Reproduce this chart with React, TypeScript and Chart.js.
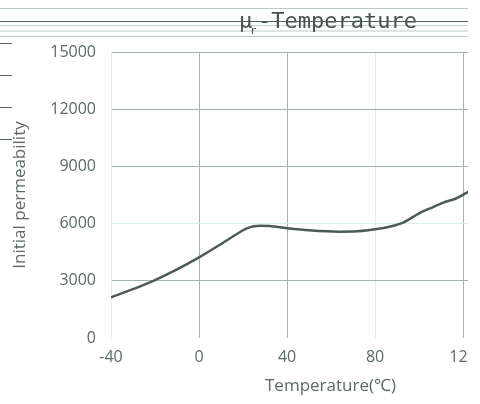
import React, { useEffect, useRef } from "react";
import { Chart, registerables } from "chart.js";

Chart.register(...registerables);

const temperatures = [-40, -30, -20, -10, 0, 10, 20, 21.7, 25, 28, 32, 40, 50, 64, 70, 80, 87, 93, 100, 105, 111, 117, 122.5];
const permeability = [2130, 2560, 3040, 3600, 4230, 4930, 5650, 5750, 5860, 5890, 5870, 5760, 5650, 5575, 5580, 5700, 5850, 6070, 6540, 6800, 7100, 7330, 7680];
const xTicks = [-40, 0, 40, 80, 120];
const yTicks = [0, 3000, 6000, 9000, 12000, 15000];

const GRID = "#a4b3af";
const LIGHT = "#dcefec";
const TEXT = "#5b6a66";
const LINE = "#4b5b56";

const decorPlugin = {
  id: "decor",
  beforeDraw(chart: any) {
    const ctx = chart.ctx;
    ctx.save();
    const lines: [number, string][] = [
      [8, "#bccbc7"],
      [21, "#56655f"],
      [25, "#c5d3cf"],
      [30.5, "#bccbc7"],
      [36, "#bccbc7"],
    ];
    for (const [y, c] of lines) {
      ctx.strokeStyle = c;
      ctx.lineWidth = 1;
      ctx.beginPath();
      ctx.moveTo(0, y + 0.5);
      ctx.lineTo(chart.width, y + 0.5);
      ctx.stroke();
    }
    ctx.strokeStyle = "#56655f";
    for (const y of [43, 75, 107, 139]) {
      ctx.beginPath();
      ctx.moveTo(0, y + 0.5);
      ctx.lineTo(12, y + 0.5);
      ctx.stroke();
    }
    ctx.restore();
  },
  afterDraw(chart: any) {
    const ctx = chart.ctx;
    ctx.save();
    ctx.fillStyle = "#44544f";
    ctx.textBaseline = "alphabetic";
    ctx.textAlign = "left";
    ctx.font = "22px 'DejaVu Sans Mono'";
    ctx.fillText("μ", 239, 28);
    ctx.font = "11px 'DejaVu Sans Mono'";
    ctx.fillText("r", 250, 34);
    ctx.font = "22px 'DejaVu Sans Mono'";
    ctx.fillText("-Temperature", 258, 28);
    ctx.restore();
  },
};

const tickFont = { family: "'Open Sans'", size: 16 };
const titleFont = { family: "'Open Sans'", size: 17 };

export default function App() {
  const ref = useRef<HTMLCanvasElement>(null);
  useEffect(() => {
    const canvas = ref.current!;
    const chart = new Chart(canvas, {
      type: "line",
      data: {
        datasets: [
          {
            data: temperatures.map((t, i) => ({ x: t, y: permeability[i] })),
            borderColor: LINE,
            borderWidth: 2.5,
            pointRadius: 0,
            cubicInterpolationMode: "monotone",
            fill: false,
          },
        ],
      },
      options: {
        animation: false,
        responsive: false,
        layout: { padding: { left: 0, top: 52, right: 10, bottom: 0 } },
        plugins: { legend: { display: false }, tooltip: { enabled: false }, title: { display: false } },
        scales: {
          x: {
            type: "linear",
            min: -40,
            max: 159.5,
            afterBuildTicks: (s: any) => {
              s.ticks = xTicks.map((v) => ({ value: v }));
            },
            afterFit: (s: any) => {
              s.height = 66;
            },
            ticks: { includeBounds: false, padding: 10, color: TEXT, font: tickFont, maxRotation: 0, callback: (v: any) => String(v) },
            grid: {
              drawTicks: false,
              color: (c: any) => (c.tick && (c.tick.value === -40 || c.tick.value === 80) ? LIGHT : GRID),
            },
            border: { display: false },
            title: { display: true, text: "Temperature(℃)", color: TEXT, font: titleFont, padding: { top: 0, bottom: 8 } },
          },
          y: {
            min: 0,
            max: 15000,
            afterBuildTicks: (s: any) => {
              s.ticks = yTicks.map((v) => ({ value: v }));
            },
            afterFit: (s: any) => {
              s.width = 111;
            },
            ticks: { padding: 15, color: TEXT, font: tickFont, callback: (v: any) => String(v) },
            grid: {
              drawTicks: false,
              color: (c: any) => (c.tick && c.tick.value === 0 ? "rgba(0,0,0,0)" : c.tick && c.tick.value === 6000 ? LIGHT : GRID),
            },
            border: { display: true, color: LIGHT },
            title: { display: true, text: "Initial permeability", color: TEXT, font: titleFont, padding: { top: 10, bottom: 0 } },
          },
        },
      },
      plugins: [decorPlugin],
    });
    return () => chart.destroy();
  }, []);
  return (
    <div style={{ position: "fixed", left: 0, top: 0, width: 468, height: 404, overflow: "hidden", background: "#fff" }}>
      <canvas ref={ref} width={560} height={404} style={{ display: "block", width: 560, height: 404 }} />
    </div>
  );
}
